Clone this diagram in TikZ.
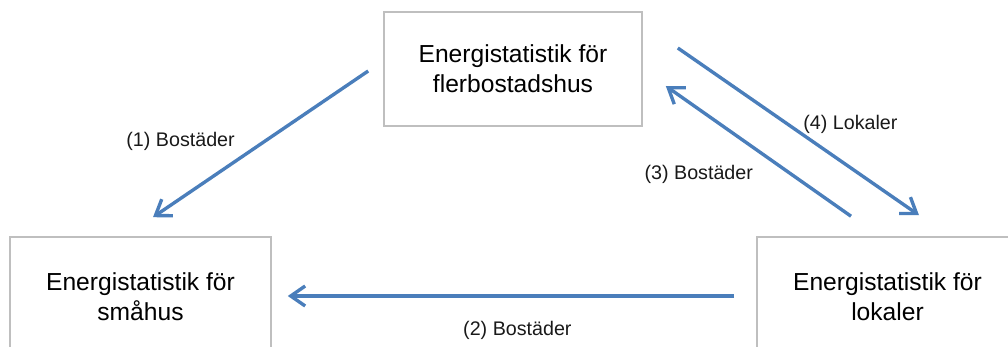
\documentclass[tikz,border=0pt]{standalone}
\usepackage{fontspec}
\setmainfont{Liberation Sans}
\usetikzlibrary{arrows.meta,positioning,calc}
\definecolor{flowblue}{HTML}{4A7EBB}
\definecolor{boxgray}{HTML}{BFBFBF}

\begin{document}
\begin{tikzpicture}[
    x=0.025cm, y=-0.025cm,
    box/.style={draw=boxgray, line width=1.1pt, align=center, font=\fontsize{17.5}{21.3}\selectfont},
    flow/.style={draw=flowblue, line width=2.4pt, -{Straight Barb[length=0.36cm, width=0.5cm]}},
    flowtext/.style={font=\fontsize{14}{17}\selectfont, text=black!90}
]
    \useasboundingbox (0,0) rectangle (1008,347);

    \node[box, minimum width=6.45cm, minimum height=2.85cm] (flerbo) at (513,69) {Energistatistik för\\flerbostadshus};
    \node[box, minimum width=6.525cm, minimum height=3cm] (smahus) at (140.5,297) {Energistatistik för\\småhus};
    \node[box, minimum width=6.525cm, minimum height=3cm] (lokaler) at (887.5,297) {Energistatistik för\\lokaler};

    \draw[flow] ($(flerbo.west)+(-15,2)$) -- ($(smahus.north)+(12.5,-19)$)
        node[flowtext, midway, xshift=-2cm, yshift=0.06cm] {(1) Bostäder};
    \draw[flow] ($(lokaler.west)+(-22,-1)$) -- ($(smahus.east)+(16,-1)$)
        node[flowtext, midway, xshift=0.16cm, yshift=-0.85cm] {(2) Bostäder};
    \draw[flow] ($(lokaler.north)+(-36.5,-20)$) -- ($(flerbo.east)+(23,17)$)
        node[flowtext, midway, xshift=-1.49cm, yshift=-0.59cm] {(3) Bostäder};
    \draw[flow] ($(flerbo.east)+(35,-21)$) -- ($(lokaler.north)+(31.5,-21)$)
        node[flowtext, midway, xshift=1.3cm, yshift=0.175cm] {(4) Lokaler};
\end{tikzpicture}
\end{document}
